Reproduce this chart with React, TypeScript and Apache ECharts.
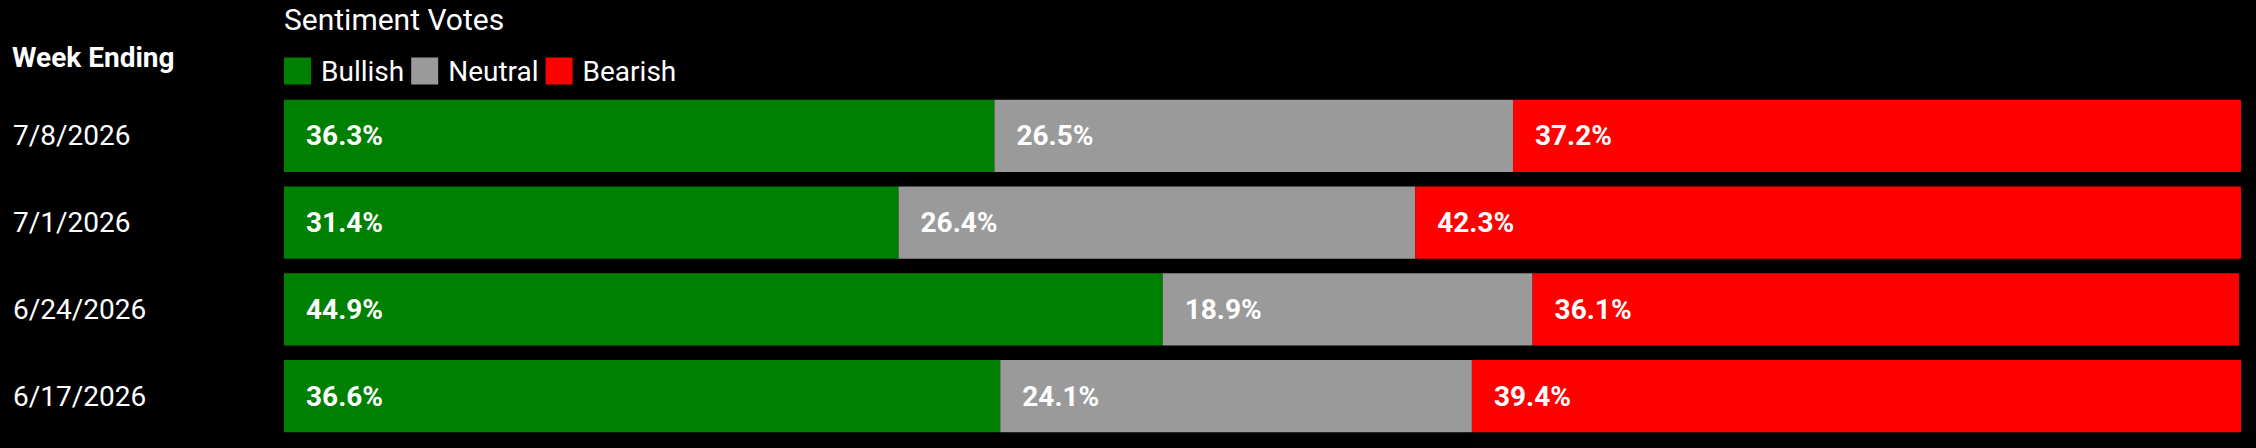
import React, { useEffect, useRef } from "react";
import * as echarts from "echarts";

const weeks = ["7/8/2026", "7/1/2026", "6/24/2026", "6/17/2026"];
const bullish = [36.3, 31.4, 44.9, 36.6];
const neutral = [26.5, 26.4, 18.9, 24.1];
const bearish = [37.2, 42.3, 36.1, 39.4];
const seriesNames = ["Bullish", "Neutral", "Bearish"];
const seriesColors = ["#008000", "#9a9a9a", "#ff0000"];

export default function App() {
  const ref = useRef<HTMLDivElement>(null);
  useEffect(() => {
    document.body.style.margin = "0";
    document.body.style.background = "#000";
    const chart = echarts.init(ref.current!, null, { renderer: "svg" });
    const values = [bullish, neutral, bearish];
    chart.setOption({
      animation: false,
      backgroundColor: "#000000",
      title: [
        {
          text: "Sentiment Votes",
          left: 284,
          top: 4,
          padding: 0,
          textStyle: { color: "#ffffff", fontFamily: "Roboto", fontSize: 30, fontWeight: "normal" },
        },
        {
          text: "Week Ending",
          left: 12,
          top: 43,
          padding: 0,
          textStyle: { color: "#ffffff", fontFamily: "Roboto", fontSize: 28, fontWeight: "bold" },
        },
      ],
      legend: {
        left: 284,
        top: 57,
        padding: 0,
        itemWidth: 27,
        itemHeight: 27,
        itemGap: 7,
        icon: "rect",
        data: seriesNames,
        textStyle: { color: "#ffffff", fontFamily: "Roboto", fontSize: 28, padding: [0, 0, 0, 5] },
      },
      grid: { left: 284, right: 15, top: 92.5, bottom: 8.5, containLabel: false },
      xAxis: { type: "value", min: 0, max: 100, show: false },
      yAxis: {
        type: "category",
        data: weeks,
        inverse: true,
        axisLine: { show: false },
        axisTick: { show: false },
        splitLine: { show: false },
        axisLabel: {
          align: "left",
          margin: 271,
          color: "#ffffff",
          fontFamily: "Roboto",
          fontSize: 28,
        },
      },
      series: seriesNames.map((name, i) => ({
        name,
        type: "bar",
        stack: "total",
        data: values[i],
        barCategoryGap: "17%",
        itemStyle: { color: seriesColors[i] },
        label: {
          show: true,
          position: "insideLeft",
          distance: 22,
          formatter: (p: any) => p.value.toFixed(1) + "%",
          color: "#ffffff",
          fontFamily: "Roboto",
          fontWeight: "bold",
          fontSize: 28,
        },
      })),
    });
    return () => chart.dispose();
  }, []);
  return <div ref={ref} style={{ width: 2256, height: 448, background: "#000" }} />;
}
